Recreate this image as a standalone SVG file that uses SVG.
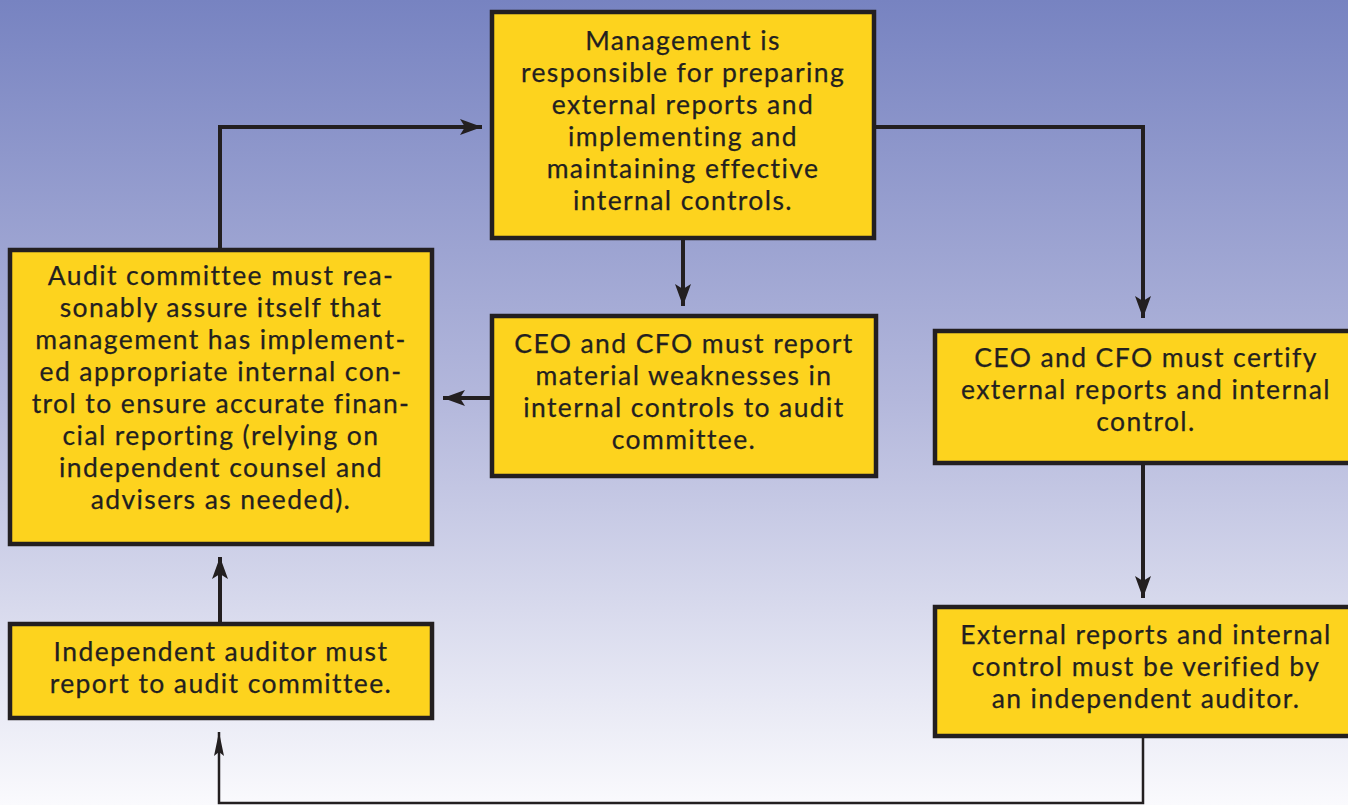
<svg xmlns="http://www.w3.org/2000/svg" width="1348" height="805" viewBox="0 0 1348 805">
<defs>
<linearGradient id="bg" x1="0" y1="0" x2="0" y2="1">
<stop offset="0" stop-color="#7783c1"/>
<stop offset="0.5" stop-color="#b4b8dc"/>
<stop offset="1" stop-color="#fafafd"/>
</linearGradient>
<marker id="ah" viewBox="0 0 22 16" refX="22" refY="8" markerWidth="22" markerHeight="16" markerUnits="userSpaceOnUse" orient="auto">
<path d="M0,0 L22,8 L0,16 L5,8 Z" fill="#231f20"/>
</marker>
<marker id="ahs" viewBox="0 0 24 10" refX="24" refY="5" markerWidth="24" markerHeight="10" markerUnits="userSpaceOnUse" orient="auto">
<path d="M0,0 L24,5 L0,10 L4,5 Z" fill="#231f20"/>
</marker>
</defs>
<style>
.box{fill:#fdd31e;stroke:#231f20;stroke-width:4.5}
.t{font-family:Lato,"Open Sans",sans-serif;font-size:26.5px;letter-spacing:1.4px;fill:#231f20;stroke:#231f20;stroke-width:0.25;text-anchor:middle}
.c{fill:none;stroke:#231f20;stroke-width:4}
.cs{fill:none;stroke:#231f20;stroke-width:2.5}
</style>
<rect width="1348" height="805" fill="url(#bg)"/>
<g id="connectors">
<path class="c" d="M876,127 H1143 V318" marker-end="url(#ah)"/>
<path class="c" d="M220,248 V127 H482" marker-end="url(#ah)"/>
<path class="c" d="M683,240 V306" marker-end="url(#ah)"/>
<path class="c" d="M490,398 H443" marker-end="url(#ah)"/>
<path class="c" d="M1143,465 V598" marker-end="url(#ah)"/>
<path class="c" d="M220,622 V557" marker-end="url(#ah)"/>
<path class="cs" d="M1143,738 V803 H219 V732" marker-end="url(#ahs)"/>
</g>
<g id="management">
<rect class="box" x="492" y="12" width="382" height="226"/>
<text class="t" x="683" y="50">Management is</text>
<text class="t" x="683" y="82">responsible for preparing</text>
<text class="t" x="683" y="114">external reports and</text>
<text class="t" x="683" y="146">implementing and</text>
<text class="t" x="683" y="178">maintaining effective</text>
<text class="t" x="683" y="210">internal controls.</text>
</g>
<g id="audit-committee">
<rect class="box" x="10" y="250" width="422" height="294"/>
<text class="t" x="221" y="285">Audit committee must rea-</text>
<text class="t" x="221" y="317">sonably assure itself that</text>
<text class="t" x="221" y="349">management has implement-</text>
<text class="t" x="221" y="381">ed appropriate internal con-</text>
<text class="t" x="221" y="413">trol to ensure accurate finan-</text>
<text class="t" x="221" y="445">cial reporting (relying on</text>
<text class="t" x="221" y="477">independent counsel and</text>
<text class="t" x="221" y="509">advisers as needed).</text>
</g>
<g id="ceo-report">
<rect class="box" x="492" y="316" width="384" height="160"/>
<text class="t" x="684" y="353">CEO and CFO must report</text>
<text class="t" x="684" y="385">material weaknesses in</text>
<text class="t" x="684" y="417">internal controls to audit</text>
<text class="t" x="684" y="449">committee.</text>
</g>
<g id="ceo-certify">
<rect class="box" x="935" y="331" width="430" height="132"/>
<text class="t" x="1146" y="367">CEO and CFO must certify</text>
<text class="t" x="1146" y="399">external reports and internal</text>
<text class="t" x="1146" y="431">control.</text>
</g>
<g id="external-verified">
<rect class="box" x="935" y="607" width="430" height="129"/>
<text class="t" x="1146" y="644">External reports and internal</text>
<text class="t" x="1146" y="676">control must be verified by</text>
<text class="t" x="1146" y="708">an independent auditor.</text>
</g>
<g id="independent-auditor">
<rect class="box" x="10" y="624" width="422" height="94"/>
<text class="t" x="221" y="661">Independent auditor must</text>
<text class="t" x="221" y="693">report to audit committee.</text>
</g>
</svg>
